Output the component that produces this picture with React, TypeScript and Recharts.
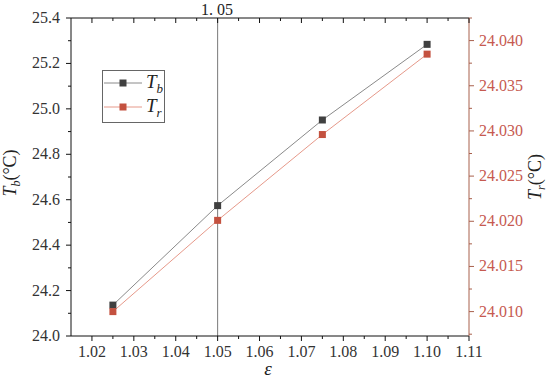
import React from 'react';
import { LineChart, Line, XAxis, YAxis, ReferenceLine } from 'recharts';

const epsValues = [1.025, 1.05, 1.075, 1.1];
const tbValues = [24.136, 24.574, 24.951, 25.284];
const trValues = [24.01, 24.0201, 24.0296, 24.0385];

const xMajor = [1.02, 1.03, 1.04, 1.05, 1.06, 1.07, 1.08, 1.09, 1.1, 1.11];
const xMinor = [1.025, 1.035, 1.045, 1.055, 1.065, 1.075, 1.085, 1.095, 1.105];
const tbMajor = [24.0, 24.2, 24.4, 24.6, 24.8, 25.0, 25.2, 25.4];
const tbMinor = [24.1, 24.3, 24.5, 24.7, 24.9, 25.1, 25.3];
const trMajor = [24.01, 24.015, 24.02, 24.025, 24.03, 24.035, 24.04];
const trMinor = [24.0075, 24.0125, 24.0175, 24.0225, 24.0275, 24.0325, 24.0375, 24.0425];

const FONT = 'Liberation Serif, DejaVu Serif, serif';
const AXIS_DARK = '#333333';
const RIGHT_AXIS = '#a8604c';
const RIGHT_TEXT = '#c65a50';

const chartData = epsValues.map((e, i) => ({ eps: e, tb: tbValues[i], tr: trValues[i] }));

const sortAll = (a: number[], b: number[]) => [...a, ...b].sort((p, q) => p - q);

// draws major/minor tick marks by hand, label only on majors
const AxisTick = (props: any) => {
  const { x, y, payload, side, majors, digits, tickColor, textColor } = props;
  const major = majors.includes(payload.value);
  const len = major ? 5 : 3;
  const label = major ? payload.value.toFixed(digits) : '';
  if (side === 'bottom') {
    return (
      <g>
        <line x1={x} x2={x} y1={y} y2={y + len} stroke={tickColor} />
        <text x={x} y={y + 21} textAnchor="middle" fill={textColor} fontSize={16} style={{ fontFamily: FONT }}>{label}</text>
      </g>
    );
  }
  if (side === 'top') {
    return <line x1={x} x2={x} y1={y} y2={y + len} stroke={tickColor} />;
  }
  if (side === 'left') {
    return (
      <g>
        <line x1={x} x2={x - len} y1={y} y2={y} stroke={tickColor} />
        <text x={x - 11} y={y + 5} textAnchor="end" fill={textColor} fontSize={16} style={{ fontFamily: FONT }}>{label}</text>
      </g>
    );
  }
  return (
    <g>
      <line x1={x} x2={x + len} y1={y} y2={y} stroke={tickColor} />
      <text x={x + 10} y={y + 5} textAnchor="start" fill={textColor} fontSize={16} style={{ fontFamily: FONT }}>{label}</text>
    </g>
  );
};

const square = (color: string) => (p: any) =>
  p.cx == null ? <g key={p.index} /> : (
    <rect key={p.index} x={p.cx - 3.5} y={p.cy - 3.5} width={7} height={7} fill={color} />
  );

export default function App() {
  return (
    <div style={{ position: 'absolute', left: 0, top: 0, width: 550, height: 385, background: '#fff', fontFamily: FONT }}>
      <LineChart width={550} height={385} data={chartData} margin={{ top: 0, right: 0, bottom: 0, left: 0 }}>
        <XAxis dataKey="eps" type="number" domain={[1.015, 1.11]} allowDataOverflow
          ticks={sortAll(xMajor, xMinor)} interval={0} height={49} tickSize={0} tickMargin={0}
          axisLine={{ stroke: '#111' }} tickLine={false}
          tick={(p: any) => <AxisTick {...p} side="bottom" majors={xMajor} digits={2} tickColor="#111" textColor={AXIS_DARK} />} />
        <XAxis xAxisId="top" dataKey="eps" orientation="top" type="number" domain={[1.015, 1.11]} allowDataOverflow
          ticks={sortAll(xMajor, xMinor)} interval={0} height={18} tickSize={0} tickMargin={0}
          axisLine={{ stroke: '#111' }} tickLine={false}
          tick={(p: any) => <AxisTick {...p} side="top" majors={xMajor} digits={2} tickColor="#111" textColor={AXIS_DARK} />} />
        <YAxis yAxisId="left" type="number" domain={[24.0, 25.4]} allowDataOverflow
          ticks={sortAll(tbMajor, tbMinor)} interval={0} width={71} tickSize={0} tickMargin={0}
          axisLine={{ stroke: '#111' }} tickLine={false}
          tick={(p: any) => <AxisTick {...p} side="left" majors={tbMajor} digits={1} tickColor="#111" textColor={AXIS_DARK} />} />
        <YAxis yAxisId="right" orientation="right" type="number" domain={[24.0073, 24.0425]} allowDataOverflow
          ticks={sortAll(trMajor, trMinor)} interval={0} width={81} tickSize={0} tickMargin={0}
          axisLine={{ stroke: RIGHT_AXIS }} tickLine={false}
          tick={(p: any) => <AxisTick {...p} side="right" majors={trMajor} digits={3} tickColor={RIGHT_AXIS} textColor={RIGHT_TEXT} />} />
        <ReferenceLine x={1.05} yAxisId="left" stroke="#7a7a7a" strokeWidth={1} />
        {/* invisible series so the top frame axis gets a real scale */}
        <Line xAxisId="top" yAxisId="left" dataKey="tb" stroke="none" dot={false} activeDot={false} isAnimationActive={false} />
        <Line yAxisId="left" dataKey="tb" stroke="#8a8a8a" strokeWidth={1} isAnimationActive={false}
          dot={square('#404040')} activeDot={false} />
        <Line yAxisId="right" dataKey="tr" stroke="#e6998a" strokeWidth={1} isAnimationActive={false}
          dot={square('#c4513f')} activeDot={false} />
      </LineChart>
      <svg width={550} height={385} style={{ position: 'absolute', left: 0, top: 0, pointerEvents: 'none', fontFamily: FONT }}>
        <text x={217} y={15} textAnchor="middle" fontSize={16} fill="#222">1. 05</text>
        <text transform="translate(16,173) rotate(-90)" textAnchor="middle" fontSize={18} fill="#222">
          <tspan fontStyle="italic">T</tspan>
          <tspan fontStyle="italic" fontSize={12} dy={4}>b</tspan>
          <tspan dy={-4}>(°C)</tspan>
        </text>
        <text transform="translate(541,177) rotate(-90)" textAnchor="middle" fontSize={18} fill="#222">
          <tspan fontStyle="italic">T</tspan>
          <tspan fontStyle="italic" fontSize={12} dy={4}>r</tspan>
          <tspan dy={-4}>(°C)</tspan>
        </text>
        <text x={268} y={375} textAnchor="middle" fontSize={19} fontStyle="italic" fill="#222">ε</text>
        <rect x={102.5} y={70.5} width={62} height={52} fill="#fff" stroke="#666" />
        <line x1={104} x2={142} y1={83} y2={83} stroke="#8a8a8a" />
        <rect x={119.5} y={79.5} width={7} height={7} fill="#404040" />
        <text x={146} y={88} fontSize={19} fill="#222">
          <tspan fontStyle="italic">T</tspan>
          <tspan fontStyle="italic" fontSize={13} dy={5}>b</tspan>
        </text>
        <line x1={104} x2={142} y1={107} y2={107} stroke="#e6998a" />
        <rect x={119.5} y={103.5} width={7} height={7} fill="#c4513f" />
        <text x={146} y={112} fontSize={19} fill="#222">
          <tspan fontStyle="italic">T</tspan>
          <tspan fontStyle="italic" fontSize={13} dy={5}>r</tspan>
        </text>
      </svg>
    </div>
  );
}
